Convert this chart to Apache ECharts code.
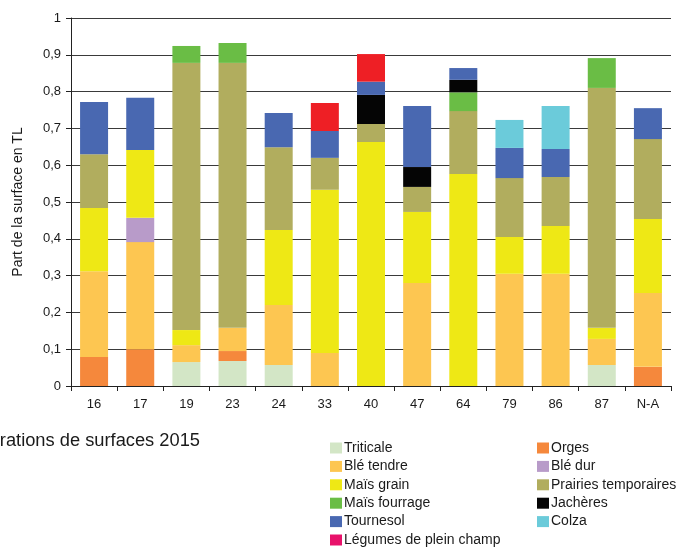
<!DOCTYPE html>
<html>
<head>
<meta charset="utf-8">
<script src="https://cdn.jsdelivr.net/npm/echarts@6/dist/echarts.min.js"></script>
<style>
  html, body { margin: 0; padding: 0; background: #fff; }
  #chart { width: 682px; height: 547px; }
</style>
</head>
<body>
<div id="chart"></div>
<script>
// Départements (and the N-A aggregate) along the x axis
const categories = ['16', '17', '19', '23', '24', '33', '40', '47', '64', '79', '86', '87', 'N-A'];

// Share of each crop in the TL surface, per département (stacked bottom to top)
const triticale      = [0,     0,     0.065, 0.068, 0.057, 0,     0,     0,     0,     0,     0,     0.057, 0];
const orges          = [0.079, 0.100, 0,     0.027, 0,     0,     0,     0,     0,     0,     0,     0,     0.052];
const bleTendre      = [0.233, 0.291, 0.046, 0.063, 0.163, 0.090, 0,     0.280, 0,     0.305, 0.305, 0.071, 0.201];
const bleDur         = [0,     0.066, 0,     0,     0,     0,     0,     0,     0,     0,     0,     0,     0];
const maisGrain      = [0.172, 0.184, 0.041, 0,     0.204, 0.443, 0.663, 0.193, 0.576, 0.100, 0.130, 0.030, 0.201];
const prairies       = [0.146, 0,     0.726, 0.720, 0.225, 0.087, 0.049, 0.068, 0.171, 0.160, 0.133, 0.652, 0.217];
const maisFourrage   = [0,     0,     0.046, 0.054, 0,     0,     0,     0,     0.051, 0,     0,     0.081, 0];
const jacheres       = [0,     0,     0,     0,     0,     0,     0.079, 0.054, 0.034, 0,     0,     0,     0];
const tournesol      = [0.142, 0.142, 0,     0,     0.093, 0.073, 0.036, 0.166, 0.032, 0.082, 0.076, 0,     0.084];
const colza          = [0,     0,     0,     0,     0,     0,     0,     0,     0,     0.076, 0.117, 0,     0];
const legumes        = [0,     0,     0,     0,     0,     0.076, 0.075, 0,     0,     0,     0,     0,     0];

const yTicks = [0, 0.1, 0.2, 0.3, 0.4, 0.5, 0.6, 0.7, 0.8, 0.9, 1];

const crops = [
  { name: 'Triticale',              data: triticale,    color: '#d3e6c6' },
  { name: 'Orges',                  data: orges,        color: '#f5883c' },
  { name: 'Blé tendre',             data: bleTendre,    color: '#fdc651' },
  { name: 'Blé dur',                data: bleDur,       color: '#b89bc9' },
  { name: 'Maïs grain',             data: maisGrain,    color: '#eee815' },
  { name: 'Prairies temporaires',   data: prairies,     color: '#b1ad5e' },
  { name: 'Maïs fourrage',          data: maisFourrage, color: '#6abd45' },
  { name: 'Jachères',               data: jacheres,     color: '#050505' },
  { name: 'Tournesol',              data: tournesol,    color: '#4968b1' },
  { name: 'Colza',                  data: colza,        color: '#6bcbda' },
  { name: 'Légumes de plein champ', data: legumes,      color: '#ee1f25' }
];

const FONT = '"Liberation Sans", Arial, sans-serif';
const chart = echarts.init(document.getElementById('chart'), null, { renderer: 'canvas' });

const legendCommon = {
  orient: 'vertical',
  itemWidth: 12,
  itemHeight: 11,
  itemGap: 4.4,
  icon: 'rect',
  selectedMode: false,
  textStyle: { fontFamily: FONT, fontSize: 14, color: '#1a1a1a', lineHeight: 14, padding: [0, 0, 0, -3] },
  padding: 0
};

chart.setOption({
  animation: false,
  backgroundColor: '#ffffff',
  grid: { left: 71, right: 11, top: 18, bottom: 161, containLabel: false },
  legend: [
    Object.assign({}, legendCommon, {
      left: 330, top: 441,
      data: ['Triticale', 'Blé tendre', 'Maïs grain', 'Maïs fourrage', 'Tournesol',
             { name: 'Légumes de plein champ', itemStyle: { color: '#e8126a' } }]
    }),
    Object.assign({}, legendCommon, {
      left: 537, top: 441,
      data: ['Orges', 'Blé dur', 'Prairies temporaires', 'Jachères', 'Colza']
    })
  ],
  graphic: [{
    type: 'text',
    x: 200,
    y: 441,
    style: {
      text: 'rations de surfaces 2015',
      fontFamily: FONT, fontSize: 18.3, fill: '#1a1a1a',
      align: 'right', verticalAlign: 'middle'
    }
  }],
  xAxis: {
    type: 'category',
    data: categories,
    axisLine: { lineStyle: { color: '#222', width: 1 } },
    axisTick: { show: true, length: 5, lineStyle: { color: '#222' } },
    axisLabel: { fontFamily: FONT, fontSize: 13, color: '#1a1a1a', margin: 12 }
  },
  yAxis: {
    type: 'value',
    min: 0,
    max: 1,
    interval: 0.1,
    name: 'Part de la surface en TL',
    nameLocation: 'middle',
    nameGap: 46,
    nameTextStyle: { fontFamily: FONT, fontSize: 14, color: '#1a1a1a' },
    axisLine: { show: true, lineStyle: { color: '#222', width: 1 } },
    axisTick: { show: true, length: 5, lineStyle: { color: '#222' } },
    axisLabel: {
      fontFamily: FONT, fontSize: 13, color: '#1a1a1a', margin: 10,
      formatter: v => {
        const t = yTicks.find(x => Math.abs(x - v) < 1e-9);
        const val = t === undefined ? v : t;
        return (val === 0 || val === 1) ? String(val) : val.toFixed(1).replace('.', ',');
      }
    },
    splitLine: { show: true, lineStyle: { color: '#3a3a3a', width: 1 } }
  },
  series: crops.map(c => ({
    name: c.name,
    type: 'bar',
    stack: 'total',
    barWidth: 28,
    data: c.data,
    itemStyle: { color: c.color }
  }))
});
</script>
</body>
</html>
